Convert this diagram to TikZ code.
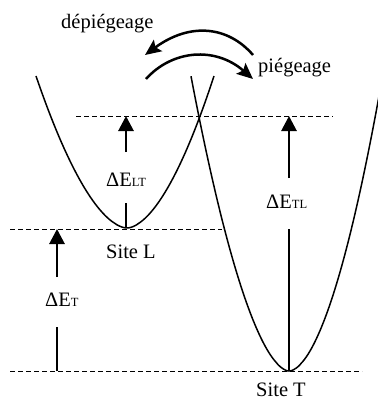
\documentclass[tikz,border=0pt]{standalone}
\usepackage{fontspec}
\setmainfont{Liberation Serif}
\usetikzlibrary{arrows.meta}
\newcommand\mysub[1]{{\fontsize{12.5}{14}\selectfont #1}}
\begin{document}
\begin{tikzpicture}[x=1pt,y=-1pt,
 curve/.style={line width=1.5pt},
 level/.style={line width=1pt, dash pattern=on 5pt off 3pt},
 shaft/.style={line width=2.8pt},
 uparrow/.style={shaft,-{Triangle[length=15pt,width=15pt]}},
 bendarrow/.style={line width=2.5pt,-{Stealth[length=16pt,width=14pt,inset=3pt]}},
 lbl/.style={anchor=base west,inner sep=0pt,font=\fontsize{20.5}{24}\selectfont},
]
\path[use as bounding box] (0,0) rectangle (377,401);
% energy levels
\coordinate (top1) at (76,116);   \coordinate (top2) at (333,116);
\coordinate (mid1) at (10,229);   \coordinate (mid2) at (222,229);
\coordinate (bot1) at (10,371);   \coordinate (bot2) at (362,371);
\draw[level] (top1) -- (top2);
\draw[level] (mid1) -- (mid2);
\draw[level] (bot1) -- (bot2);
% wells
\draw[curve] plot[domain=91:0.01,samples=70] ({127-\x},{228-152*(\x/91)^1.75})
  -- plot[domain=0.01:87,samples=70] ({127+\x},{228-152*(\x/87)^1.75});
\draw[curve] plot[domain=98:0.01,samples=80] ({289-\x},{371-254*(\x/90)^1.75})
  -- plot[domain=0.01:94,samples=80] ({289+\x},{371-264*(\x/88)^1.8});
% labels
\node[lbl] (siteL) at (106,258) {Site L};
\node[lbl] (siteT) at (256,396) {Site T};
\node[lbl] (dep) at (61,29) {dépiégeage};
\node[lbl] (pie) at (258,73) {piégeage};
\node[lbl] (dT) at (45,306) {ΔE\mysub{T}};
\node[lbl] (dLT) at (106,186) {ΔE\mysub{LT}};
\node[lbl] (dTL) at (266,208) {ΔE\mysub{TL}};
% energy arrows
\coordinate (aT0) at (57,371); \coordinate (aT1) at (57,327);
\coordinate (aT2) at (57,277); \coordinate (aT3) at (57,229);
\draw[shaft] (aT0) -- (aT1);
\draw[uparrow] (aT2) -- (aT3);
\coordinate (aLT0) at (126,228); \coordinate (aLT1) at (126,203);
\coordinate (aLT2) at (126,152); \coordinate (aLT3) at (126,116);
\draw[shaft] (aLT0) -- (aLT1);
\draw[uparrow] (aLT2) -- (aLT3);
\coordinate (aTL0) at (289,371); \coordinate (aTL1) at (289,229);
\coordinate (aTL2) at (289,178); \coordinate (aTL3) at (289,116);
\draw[shaft] (aTL0) -- (aTL1);
\draw[uparrow] (aTL2) -- (aTL3);
% trapping arrows
\coordinate (u0) at (253,55); \coordinate (u1) at (145,55);
\coordinate (l0) at (146,79); \coordinate (l1) at (253,79);
\draw[bendarrow] (u0) .. controls (228,26) and (190,22) .. (u1);
\draw[bendarrow] (l0) .. controls (172,50) and (215,46) .. (l1);
\end{tikzpicture}
\end{document}
